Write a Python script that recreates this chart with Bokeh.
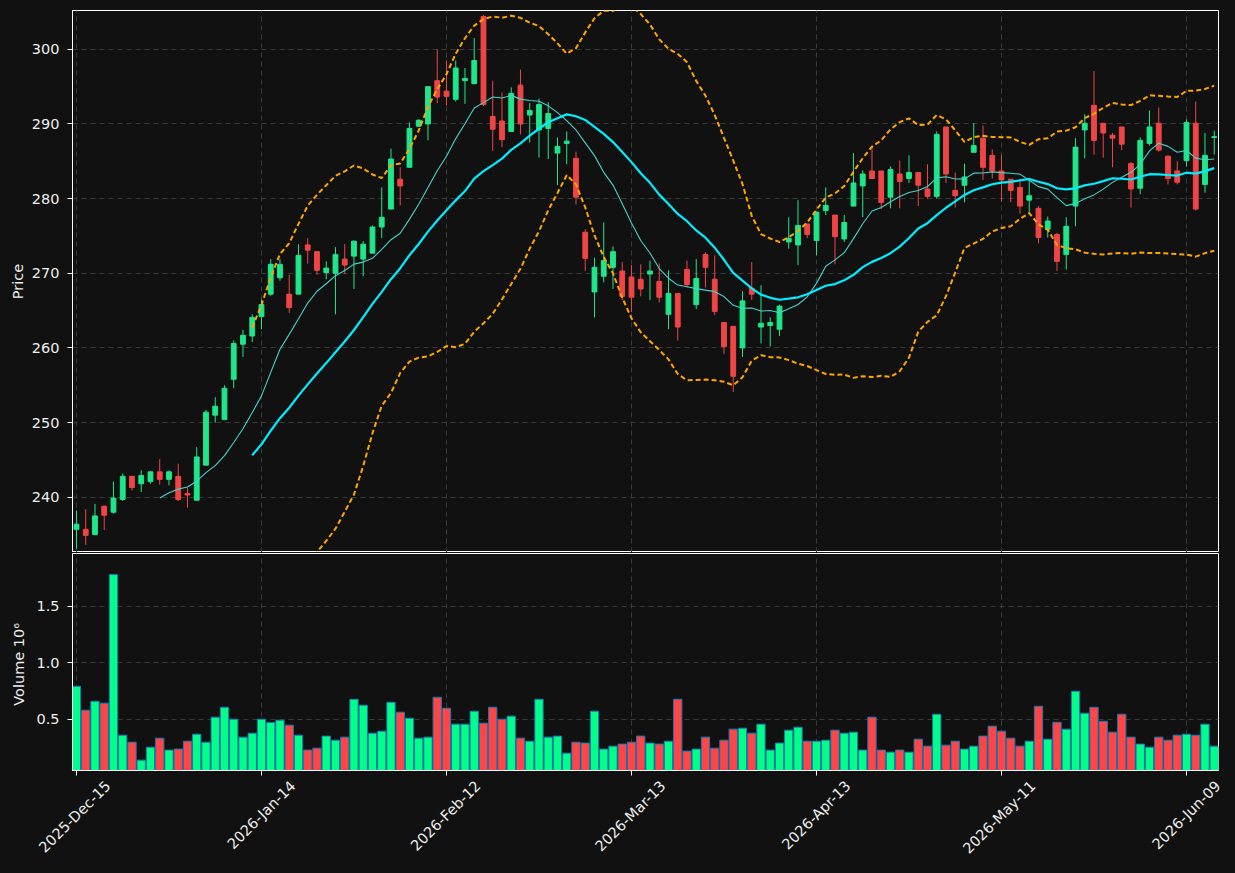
import pandas as pd
from math import pi
from bokeh.plotting import figure
from bokeh.layouts import column
from bokeh.models import Range1d, FixedTicker, PrintfTickFormatter, LinearAxis
from bokeh.embed import file_html
from bokeh.resources import INLINE

# ---------------- data ----------------
tick_positions = [0, 20, 40, 60, 80, 100, 120]
tick_labels = ["2025-Dec-15", "2026-Jan-14", "2026-Feb-12", "2026-Mar-13",
               "2026-Apr-13", "2026-May-11", "2026-Jun-09"]

opens = [235.7, 235.7, 235.0, 238.8, 238.0, 239.7, 242.8, 241.8, 242.1, 243.4,
         242.4, 242.8, 240.5, 239.6, 244.3, 251.0, 250.4, 255.8, 260.5, 261.6,
         264.2, 267.2, 269.4, 267.2, 267.2, 273.8, 272.9, 270.1, 270.0, 271.9,
         272.3, 271.9, 272.7, 276.2, 278.6, 282.6, 284.2, 289.7, 290.0, 295.8,
         294.4, 293.3, 295.8, 295.4, 304.4, 291.0, 290.4, 289.0, 295.2, 291.2,
         289.2, 289.4, 286.1, 287.4, 285.4, 275.5, 267.5, 269.6, 270.8, 270.3,
         269.5, 269.2, 269.9, 268.9, 264.5, 267.3, 270.5, 265.8, 272.5, 269.2,
         263.4, 262.9, 260.0, 268.0, 262.8, 263.0, 262.5, 274.2, 273.8, 276.6,
         274.4, 278.4, 277.8, 274.6, 279.0, 281.7, 283.7, 283.7, 280.2, 283.3,
         282.7, 283.5, 281.3, 280.3, 289.6, 281.1, 281.8, 286.2, 288.1, 285.8,
         283.7, 282.6, 281.5, 279.8, 278.7, 275.9, 275.2, 272.5, 279.0, 289.2,
         292.5, 290.1, 288.5, 289.6, 284.7, 281.4, 287.4, 290.1, 285.7, 283.7,
         285.1, 290.1, 281.9, 288.2]
highs = [238.2, 238.4, 239.1, 238.9, 242.1, 243.2, 242.8, 243.6, 243.5, 245.1,
         243.6, 244.5, 241.3, 246.7, 251.7, 253.4, 255.0, 261.0, 262.4, 264.5,
         266.5, 271.9, 271.9, 269.8, 273.9, 274.7, 272.9, 271.6, 273.5, 273.9,
         274.4, 274.3, 276.4, 281.5, 286.7, 284.2, 290.2, 290.6, 295.0, 300.0,
         298.5, 298.5, 297.5, 301.5, 304.6, 295.8, 294.2, 294.9, 297.3, 292.8,
         293.4, 292.9, 288.2, 289.0, 286.3, 275.9, 272.1, 276.8, 273.6, 271.5,
         271.1, 271.2, 271.7, 271.3, 270.4, 267.3, 271.7, 271.9, 272.8, 272.4,
         263.4, 262.9, 267.6, 271.5, 268.4, 264.1, 265.8, 277.5, 279.8, 276.6,
         278.2, 281.5, 277.8, 277.8, 286.1, 283.8, 287.0, 283.7, 284.3, 285.1,
         285.8, 283.5, 284.6, 289.0, 289.6, 283.5, 284.7, 290.1, 289.8, 286.6,
         285.9, 282.6, 282.6, 282.5, 279.0, 277.6, 275.4, 277.5, 288.1, 291.3,
         297.1, 290.1, 288.8, 289.6, 284.9, 288.2, 291.8, 292.2, 285.7, 285.0,
         290.6, 293.0, 288.8, 289.1]
lows = [233.1, 233.6, 234.9, 235.6, 237.8, 239.5, 240.9, 240.7, 241.8, 241.7,
        241.6, 239.5, 238.6, 239.6, 244.3, 250.0, 250.4, 254.6, 258.8, 260.8,
        262.5, 267.0, 269.0, 264.7, 267.2, 271.3, 269.8, 269.2, 264.5, 269.9,
        267.9, 269.6, 272.7, 274.7, 278.6, 279.1, 284.2, 289.6, 287.8, 292.8,
        292.5, 293.0, 292.7, 295.4, 292.4, 286.4, 286.9, 289.0, 288.6, 287.5,
        285.5, 285.3, 281.8, 284.6, 279.2, 270.3, 264.1, 268.8, 267.9, 266.4,
        264.8, 266.9, 266.4, 266.1, 262.5, 261.0, 268.1, 265.2, 268.1, 264.4,
        259.2, 254.1, 258.8, 266.4, 260.6, 260.2, 261.6, 273.3, 271.1, 274.7,
        272.4, 277.8, 271.2, 274.2, 279.0, 277.5, 282.7, 278.6, 278.7, 278.7,
        282.1, 279.0, 280.0, 280.0, 282.1, 278.8, 279.5, 286.2, 282.5, 282.7,
        279.6, 279.5, 278.0, 278.0, 274.0, 274.8, 270.3, 270.5, 276.3, 285.4,
        285.9, 285.5, 284.2, 286.5, 278.8, 280.6, 287.1, 286.3, 281.9, 281.9,
        284.3, 278.4, 280.8, 285.9]
closes = [236.4, 234.9, 237.5, 237.6, 239.9, 242.8, 241.3, 242.9, 243.4, 242.4,
          243.4, 239.7, 240.3, 245.4, 251.4, 252.2, 254.6, 260.6, 261.7, 264.1,
          265.8, 271.2, 271.2, 265.4, 272.4, 273.1, 270.4, 270.7, 272.5, 271.1,
          274.3, 273.9, 276.2, 277.5, 285.3, 281.7, 289.4, 290.5, 295.0, 293.6,
          293.7, 297.5, 296.1, 298.5, 292.6, 289.3, 287.9, 294.1, 290.0, 291.8,
          292.6, 291.4, 287.0, 287.7, 280.2, 272.0, 270.8, 271.7, 272.9, 266.9,
          266.8, 267.9, 270.3, 266.8, 267.3, 262.8, 268.5, 269.3, 270.8, 264.9,
          260.2, 256.2, 266.3, 267.2, 263.3, 263.4, 265.6, 274.7, 276.4, 275.2,
          278.2, 279.1, 274.9, 276.8, 282.1, 283.3, 282.7, 279.5, 283.9, 282.3,
          283.5, 281.8, 280.3, 288.6, 283.3, 280.4, 282.9, 287.1, 284.2, 283.7,
          282.5, 281.1, 279.0, 280.4, 274.8, 277.0, 271.6, 276.3, 286.9, 290.1,
          287.8, 288.8, 288.1, 287.3, 281.3, 287.8, 289.6, 286.5, 282.7, 282.2,
          290.2, 278.6, 285.8, 288.3]
volume_millions = [0.792, 0.580, 0.659, 0.642, 1.783, 0.358, 0.296, 0.137, 0.252, 0.332,
                   0.226, 0.235, 0.305, 0.367, 0.296, 0.518, 0.606, 0.500, 0.341, 0.376,
                   0.500, 0.471, 0.491, 0.447, 0.358, 0.226, 0.243, 0.350, 0.314, 0.341,
                   0.677, 0.624, 0.376, 0.394, 0.650, 0.562, 0.509, 0.332, 0.341, 0.695,
                   0.597, 0.456, 0.456, 0.571, 0.465, 0.606, 0.500, 0.527, 0.332, 0.305,
                   0.677, 0.341, 0.350, 0.199, 0.296, 0.288, 0.571, 0.235, 0.261, 0.279,
                   0.296, 0.350, 0.288, 0.279, 0.305, 0.677, 0.217, 0.235, 0.341, 0.243,
                   0.314, 0.412, 0.420, 0.376, 0.456, 0.226, 0.288, 0.403, 0.429, 0.305,
                   0.305, 0.314, 0.403, 0.376, 0.385, 0.226, 0.518, 0.226, 0.208, 0.226,
                   0.208, 0.323, 0.261, 0.544, 0.270, 0.305, 0.235, 0.261, 0.350, 0.438,
                   0.394, 0.332, 0.261, 0.305, 0.615, 0.323, 0.473, 0.412, 0.748, 0.553,
                   0.606, 0.482, 0.385, 0.544, 0.341, 0.279, 0.252, 0.341, 0.314, 0.358,
                   0.367, 0.358, 0.456, 0.261]

# ---------------- derived indicators ----------------
n = len(closes)
xs = list(range(n))
cs = pd.Series(closes)
mav10 = cs.rolling(10).mean()
mav20 = cs.rolling(20).mean()
std20 = cs.rolling(20).std(ddof=0)
bb_upper = mav20 + 2 * std20
bb_lower = mav20 - 2 * std20

UP_C, DN_C = "#1fe68a", "#f04545"
UP_V, DN_V = "#00ff88", "#ff4545"
up = [c >= o for o, c in zip(opens, closes)]
ccol = [UP_C if u else DN_C for u in up]
vcol = [UP_V if u else DN_V for u in up]
body_top = [max(o, c) for o, c in zip(opens, closes)]
body_bot = [min(o, c) for o, c in zip(opens, closes)]

BG = "#111111"
TXT = "#eeeeee"
FONT = "DejaVu Sans"
FS = "14.5px"
GRID = "#3a3a3a"

X0, X1 = -0.43, 123.46
x_range = Range1d(X0, X1)

# ---------------- price panel ----------------
p1 = figure(frame_width=1146, frame_height=542, x_range=x_range,
            y_range=Range1d(232.6, 305.2), output_backend="svg",
            toolbar_location=None, min_border_left=72, min_border_right=17,
            min_border_top=10, min_border_bottom=0,
            background_fill_color=BG, border_fill_color=BG,
            outline_line_color="white", outline_line_width=1)
p1.xaxis.visible = False

p1.segment(xs, lows, xs, highs, line_color=ccol, line_width=1)
p1.vbar(x=xs, width=0.52, top=body_top, bottom=body_bot,
        fill_color=ccol, line_color=ccol, line_width=1)
p1.line(xs, mav10.tolist(), line_color="#48d1cc", line_width=1.1)
p1.line(xs, mav20.tolist(), line_color="#00eeff", line_width=2.2)
p1.line(xs, bb_upper.tolist(), line_color="#ffa500", line_width=2, line_dash="5 3")
p1.line(xs, bb_lower.tolist(), line_color="#ffa500", line_width=2, line_dash="5 3")

p1.yaxis.ticker = FixedTicker(ticks=[240, 250, 260, 270, 280, 290, 300])
p1.yaxis.formatter = PrintfTickFormatter(format="%d")
p1.yaxis.axis_label = "Price"

# ---------------- volume panel ----------------
p2 = figure(frame_width=1146, frame_height=217, x_range=x_range,
            y_range=Range1d(0.045, 1.97), output_backend="svg",
            toolbar_location=None, min_border_left=72, min_border_right=17,
            min_border_top=1, min_border_bottom=103,
            background_fill_color=BG, border_fill_color=BG,
            outline_line_color="white", outline_line_width=1)
p2.vbar(x=xs, width=0.9, top=volume_millions, bottom=0,
        fill_color=vcol, line_color="#1f77b4", line_width=1)
p2.yaxis.ticker = FixedTicker(ticks=[0.5, 1.0, 1.5])
p2.yaxis.formatter = PrintfTickFormatter(format="%.1f")
p2.yaxis.axis_label = "Volume  10\u2076"

# primary x axis: tick marks only
p2.xaxis.ticker = FixedTicker(ticks=tick_positions)
p2.xaxis.major_label_overrides = {t: "" for t in tick_positions}
p2.xaxis.major_label_text_font_size = "0px"
p2.xaxis.major_label_standoff = 0
p2.xaxis.axis_line_color = "white"
p2.xaxis.major_tick_line_color = "white"
p2.xaxis.major_tick_out = 5
p2.xaxis.major_tick_in = 0
p2.xaxis.minor_tick_line_color = None

# label axis on a shifted copy of the x range, so that the right-anchored
# rotated labels end up centred under each tick like matplotlib's
label_shift = 3.4
p2.extra_x_ranges = {"labels": Range1d(X0 - label_shift, X1 - label_shift)}
lab_axis = LinearAxis(x_range_name="labels",
                      ticker=FixedTicker(ticks=tick_positions),
                      major_label_overrides=dict(zip(tick_positions, tick_labels)),
                      major_label_orientation=pi / 4,
                      major_label_standoff=2,
                      axis_line_color=None, major_tick_line_color=None,
                      minor_tick_line_color=None,
                      major_label_text_color=TXT, major_label_text_font=FONT,
                      major_label_text_font_size=FS)
p2.add_layout(lab_axis, "below")

for p in (p1, p2):
    p.xgrid.ticker = FixedTicker(ticks=tick_positions)
    p.grid.grid_line_color = GRID
    p.grid.grid_line_dash = "5 4"
    p.grid.grid_line_width = 1
    ax = p.yaxis[0]
    ax.axis_line_color = "white"
    ax.major_tick_line_color = "white"
    ax.major_tick_out = 5
    ax.major_tick_in = 0
    ax.minor_tick_line_color = None
    ax.major_label_standoff = 8
    ax.major_label_text_color = TXT
    ax.major_label_text_font = FONT
    ax.major_label_text_font_size = FS
    ax.axis_label_text_color = TXT
    ax.axis_label_text_font = FONT
    ax.axis_label_text_font_size = FS
    ax.axis_label_text_font_style = "normal"
p1.yaxis[0].axis_label_standoff = 3
p2.yaxis[0].axis_label_standoff = 6

layout = column(p1, p2, spacing=0)
layout.styles = {"background-color": BG}
open("out.html", "w").write(file_html(layout, INLINE))
